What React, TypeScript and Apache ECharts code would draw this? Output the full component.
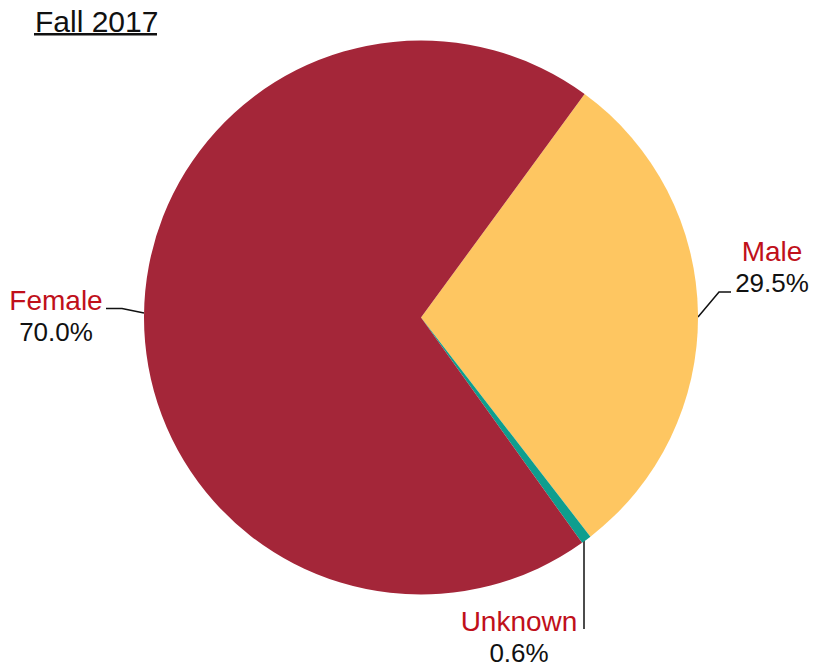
import React, { useEffect, useRef } from "react";
import * as echarts from "echarts";

const titleText = "Fall 2017";
const categories = ["Male", "Unknown", "Female"];
const values = [29.5, 0.6, 70.0];
const colors = ["#FEC661", "#0E9E8E", "#A42639"];

// label anchor positions (block centers) and label line points per slice
const labelPos: Record<string, { x: number; y: number; line: number[][] }> = {
  Male: { x: 772, y: 267, line: [[698, 317], [719, 292], [731, 292]] },
  Unknown: { x: 519, y: 637, line: [[584, 540], [584, 629]] },
  Female: { x: 56, y: 316, line: [[144, 313], [122, 308.5], [106, 308.5]] },
};

export default function App() {
  const ref = useRef<HTMLDivElement>(null);
  useEffect(() => {
    const chart = echarts.init(ref.current!, undefined, { renderer: "svg" });
    const font = "'Liberation Sans', Arial, sans-serif";
    chart.setOption({
      animation: false,
      backgroundColor: "#ffffff",
      title: {
        text: titleText,
        left: 30,
        top: 1,
        textStyle: { fontFamily: font, fontSize: 30, fontWeight: "normal", color: "#111" },
      },
      graphic: [
        { type: "rect", shape: { x: 34, y: 33, width: 123, height: 2.5 }, style: { fill: "#111" } },
      ],
      series: [
        {
          type: "pie",
          center: [421, 317.5],
          radius: 277,
          startAngle: 53.8,
          clockwise: true,
          avoidLabelOverlap: false,
          data: categories.map((c, i) => ({ name: c, value: values[i], itemStyle: { color: colors[i] } })),
          label: {
            show: true,
            formatter: (p: any) => `{n|${p.name}}\n{v|${p.value.toFixed(1)}%}`,
            align: "center",
            rich: {
              n: { fontFamily: font, fontSize: 28, color: "#C0101A", lineHeight: 32, align: "center" },
              v: { fontFamily: font, fontSize: 26, color: "#111", lineHeight: 32, align: "center" },
            },
          },
          labelLine: { show: true, lineStyle: { color: "#111", width: 1.5 } },
          labelLayout: (p: any) => {
            const name = categories[p.dataIndex];
            const lp = labelPos[name];
            return {
              x: lp.x,
              y: lp.y,
              align: "center",
              verticalAlign: "middle",
              labelLinePoints: lp.line,
            };
          },
        },
      ],
    });
    return () => chart.dispose();
  }, []);
  return (
    <div
      ref={ref}
      style={{ position: "fixed", left: 0, top: 0, width: 814, height: 668 }}
    />
  );
}
